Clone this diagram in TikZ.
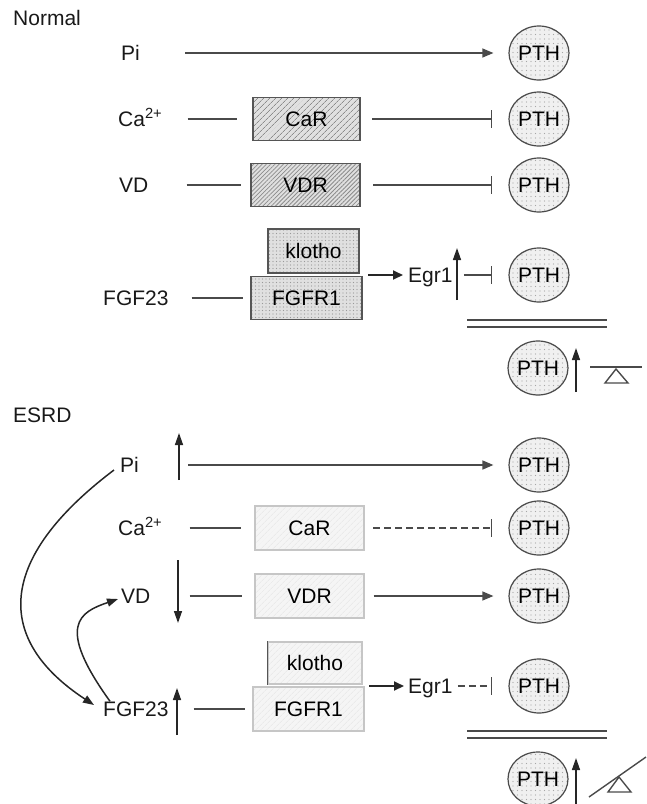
\documentclass[tikz,border=0pt]{standalone}
\usepackage{fontspec}
\setmainfont{Liberation Sans}
\definecolor{inkgray}{HTML}{4A4A4A}
\definecolor{boxgray}{HTML}{555555}
\definecolor{hatchgray}{HTML}{8C8C8C}
\definecolor{palegray}{HTML}{C6C6C6}
\usetikzlibrary{arrows.meta,positioning,shapes.geometric,patterns.meta}

\begin{document}
\begin{tikzpicture}[
      x=1pt, y=-1pt,
      font=\fontsize{21}{25}\selectfont,
      lbl/.style={inner sep=0pt, text height=15pt, text depth=0pt, text=black!90},
      pth/.style={ellipse, draw=inkgray, line width=1.2pt, minimum width=60pt, minimum height=54pt,
                  inner sep=0pt, text height=15pt, text depth=0pt, preaction={fill=black!6},
                  pattern={Dots[distance=4.5pt,radius=.55pt]}, pattern color=black!35},
      hatch/.style={draw=boxgray, line width=1.1pt, inner sep=0pt, text height=15pt, text depth=0pt,
                    preaction={fill=black!12}, pattern={Lines[angle=45,distance=4pt,line width=.7pt]},
                    pattern color=hatchgray},
      densehatch/.style={hatch, pattern={Lines[angle=45,distance=3pt,line width=.8pt]}},
      dotbox/.style={hatch, pattern={Dots[distance=3.5pt,radius=.6pt]}, pattern color=black!40},
      palebox/.style={draw=palegray, line width=1.1pt, inner sep=0pt, text height=15pt, text depth=0pt,
                      preaction={fill=black!4}, pattern={Lines[angle=45,distance=4pt,line width=.5pt]},
                      pattern color=black!10},
      link/.style={draw=inkgray, line width=1.2pt},
      arr/.style={link, -{Triangle[length=11pt,width=9pt]}},
      inhib/.style={link, -{Bar[width=18pt]}},
      dashlink/.style={dash pattern=on 7pt off 4pt},
      egrarr/.style={draw=black!85, line width=2pt, -{Triangle[length=10pt,width=9pt]}},
      uparr/.style={draw=black!85, line width=1.4pt, -{Triangle[length=12pt,width=8pt]}},
      curvearr/.style={draw=black!85, line width=1.5pt, -{Triangle[length=11pt,width=8pt]}},
      balance/.style={draw=inkgray, line width=1.4pt}
    ]
    \useasboundingbox (0,0) rectangle (647,804);

    \node[lbl, anchor=west] (normal) at (13,18) {Normal};
    \node[lbl, anchor=west] (npi) at (121,53) {Pi};
    \node[lbl, anchor=west] (nca) at (118,119) {Ca\textsuperscript{2+}};
    \node[lbl, anchor=west] (nvd) at (119,185) {VD};
    \node[lbl, anchor=west] (nfgf) at (103,298) {FGF23};
    \node[hatch, minimum width=107pt, minimum height=43pt] (ncar) at (306.5,119) {CaR};
    \node[densehatch, minimum width=109pt, minimum height=43pt] (nvdr) at (305.5,185) {VDR};
    \node[dotbox, minimum width=91pt, minimum height=44pt] (nklo) at (313.5,251) {klotho};
    \node[dotbox, minimum width=111pt, minimum height=43pt] (nfgfr) at (306.5,298) {FGFR1};
    \node[lbl, anchor=west] (negr) at (408,275) {Egr1};
    \coordinate (nkf) at (368,275);
    \node[pth] (npth1) at (539,53) {PTH};
    \node[pth] (npth2) at (539,119) {PTH};
    \node[pth] (npth3) at (539,185) {PTH};
    \node[pth] (npth4) at (539,275) {PTH};
    \node[pth] (npth5) at (538,368) {PTH};

    \draw[arr, shorten <=45pt, shorten >=15pt] (npi) -- (npth1);
    \draw[link, shorten <=25pt, shorten >=16pt] (nca) -- (ncar);
    \draw[inhib, shorten <=12pt, shorten >=16pt] (ncar) -- (npth2);
    \draw[link, shorten <=38pt, shorten >=10pt] (nvd) -- (nvdr);
    \draw[inhib, shorten <=13pt, shorten >=16pt] (nvdr) -- (npth3);
    \draw[link, shorten <=23pt, shorten >=7pt] (nfgf) -- (nfgfr);
    \draw[egrarr, shorten >=5pt] (nkf) -- (negr);
    \draw[inhib, shorten <=11pt, shorten >=16pt] (negr) -- (npth4);
    \draw[uparr] (457,300) -- (457,248);
    \draw[link, line width=1.5pt] (467,320) -- (607,320) (467,327) -- (607,327);
    \draw[uparr] (576,392) -- (576,348);
    \draw[balance] (590,367) -- (642,367);
    \draw[balance] (616,369) -- (605,383) -- (628,383) -- cycle;

    \node[lbl, anchor=west] (esrd) at (13,415) {ESRD};
    \node[lbl, anchor=west] (epi) at (120,465) {Pi};
    \node[lbl, anchor=west] (eca) at (118,528) {Ca\textsuperscript{2+}};
    \node[lbl, anchor=west] (evd) at (121,596) {VD};
    \node[lbl, anchor=west] (efgf) at (103,709) {FGF23};
    \node[palebox, minimum width=109pt, minimum height=44pt] (ecar) at (309.5,528) {CaR};
    \node[palebox, minimum width=109pt, minimum height=44pt] (evdr) at (309.5,596) {VDR};
    \node[palebox, minimum width=94pt, minimum height=42pt] (eklo) at (315,663) {klotho};
    \node[palebox, minimum width=111pt, minimum height=44pt] (efgfr) at (308.5,709) {FGFR1};
    \node[lbl, anchor=west] (eegr) at (408,686) {Egr1};
    \coordinate (ekf) at (369,686);
    \node[pth] (epth1) at (539,465) {PTH};
    \node[pth] (epth2) at (539,528) {PTH};
    \node[pth] (epth3) at (539,596) {PTH};
    \node[pth] (epth4) at (539,686) {PTH};
    \node[pth] (epth5) at (538,779) {PTH};
    \draw[boxgray, line width=1.3pt] (eklo.north west) -- (eklo.south west);

    \draw[arr, line width=1.6pt, shorten <=49pt, shorten >=15pt] (epi) -- (epth1);
    \draw[link, shorten <=27pt, shorten >=14pt] (eca) -- (ecar);
    \draw[inhib, dashlink, shorten <=9pt, shorten >=16pt] (ecar) -- (epth2);
    \draw[link, shorten <=39pt, shorten >=12pt] (evd) -- (evdr);
    \draw[arr, shorten <=9pt, shorten >=15pt] (evdr) -- (epth3);
    \draw[link, shorten <=25pt, shorten >=7pt] (efgf) -- (efgfr);
    \draw[egrarr, shorten >=4pt] (ekf) -- (eegr);
    \draw[inhib, dashlink, shorten <=5pt, shorten >=16pt] (eegr) -- (epth4);
    \draw[curvearr] ([xshift=-6pt,yshift=-5pt]epi.west) .. controls (-5,560) and (-5,640) .. ([xshift=-9pt,yshift=4pt]efgf.west);
    \draw[curvearr] ([xshift=7pt]efgf.north west) .. controls (55,625) and (80,612) .. ([xshift=-3pt,yshift=-3pt]evd.west);
    \draw[uparr] (179,480) -- (179,433);
    \draw[uparr] (178,560) -- (178,623);
    \draw[uparr] (177,735) -- (177,688);
    \draw[link, line width=1.5pt] (467,731) -- (607,731) (467,738) -- (607,738);
    \draw[uparr] (576,804) -- (576,758);
    \draw[balance] (589,797) -- (646,757);
    \draw[balance] (619,777) -- (608,792) -- (631,792) -- cycle;
  \end{tikzpicture}
\end{document}
